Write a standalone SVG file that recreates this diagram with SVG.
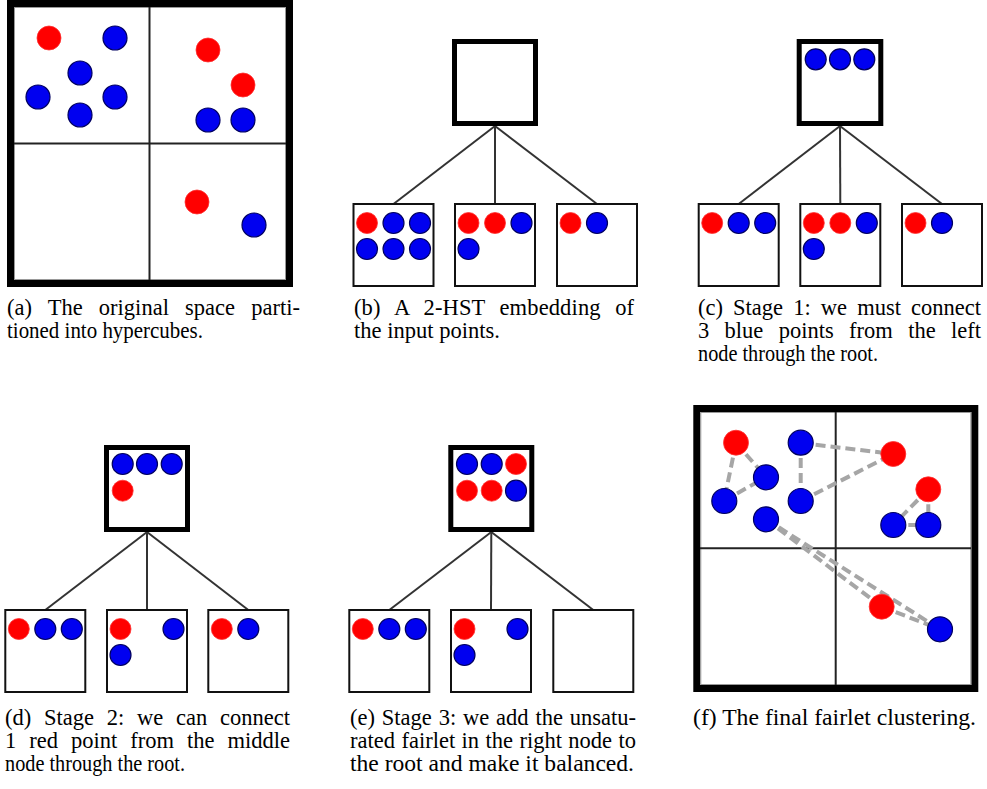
<svg xmlns="http://www.w3.org/2000/svg" width="987" height="789" viewBox="0 0 987 789">
<style>
.bg{fill:#fff}
.frame{fill:#fff;stroke:#000;stroke-width:7}
.inner{fill:none;stroke:#999;stroke-width:1}
.div{stroke:#222;stroke-width:2}
.root{fill:#fff;stroke:#000;stroke-width:5}
.child{fill:#fff;stroke:#111;stroke-width:2}
.edge{stroke:#333;stroke-width:2}
.b{fill:#0000f0;stroke:#000060;stroke-width:1.2}
.r{fill:#ff0000;stroke:#ff3030;stroke-width:0.8}
.d{stroke:#a6a6a6;stroke-width:4;stroke-dasharray:10 5;fill:none}
.cap{font-family:"Liberation Serif","Times New Roman",serif;font-size:22.5px;fill:#000}
</style>
<rect class="bg" x="0" y="0" width="987" height="789"/>

<!-- (a) -->
<g id="panel-a">
<rect class="frame" x="10.5" y="3.5" width="279" height="280"/>
<rect class="inner" x="14.5" y="7.5" width="271" height="272"/>
<line class="div" x1="149.5" y1="7" x2="149.5" y2="280"/>
<line class="div" x1="14" y1="143.5" x2="286" y2="143.5"/>
<circle class="r" cx="49" cy="38" r="12"/>
<circle class="b" cx="115" cy="38" r="12"/>
<circle class="b" cx="80" cy="73" r="12"/>
<circle class="b" cx="38" cy="97" r="12"/>
<circle class="b" cx="115" cy="97" r="12"/>
<circle class="b" cx="80" cy="115" r="12"/>
<circle class="r" cx="208" cy="50" r="12"/>
<circle class="r" cx="243" cy="85" r="12"/>
<circle class="b" cx="208" cy="120" r="12"/>
<circle class="b" cx="243" cy="120" r="12"/>
<circle class="r" cx="197" cy="202" r="12"/>
<circle class="b" cx="254" cy="225" r="12"/>
</g>

<!-- connectors -->
<g id="connectors">
<line class="edge" x1="495" y1="126" x2="393.5" y2="204"/>
<line class="edge" x1="495" y1="126" x2="495" y2="204"/>
<line class="edge" x1="495" y1="126" x2="597" y2="204"/>
<line class="edge" x1="840" y1="126" x2="738.7" y2="204"/>
<line class="edge" x1="840" y1="126" x2="840.3" y2="204"/>
<line class="edge" x1="840" y1="126" x2="942" y2="204"/>
<line class="edge" x1="147" y1="532" x2="45.3" y2="610"/>
<line class="edge" x1="147" y1="532" x2="147" y2="610"/>
<line class="edge" x1="147" y1="532" x2="248.3" y2="610"/>
<line class="edge" x1="491.3" y1="532" x2="389.3" y2="610"/>
<line class="edge" x1="491.3" y1="532" x2="491" y2="610"/>
<line class="edge" x1="491.3" y1="532" x2="593.3" y2="610"/>
</g>

<!-- (b) -->
<g id="b-root"><rect class="root" x="454.5" y="41.5" width="81" height="82"/></g>
<g id="b-left">
<rect class="child" x="353.5" y="204" width="80" height="82"/>
<circle class="r" cx="367" cy="223" r="10.5"/>
<circle class="b" cx="393.5" cy="223" r="10.5"/>
<circle class="b" cx="420" cy="223" r="10.5"/>
<circle class="b" cx="367" cy="249" r="10.5"/>
<circle class="b" cx="393.5" cy="249" r="10.5"/>
<circle class="b" cx="420" cy="249" r="10.5"/>
</g>
<g id="b-middle">
<rect class="child" x="455" y="204" width="80" height="82"/>
<circle class="r" cx="468.5" cy="223" r="10.5"/>
<circle class="r" cx="495" cy="223" r="10.5"/>
<circle class="b" cx="521.5" cy="223" r="10.5"/>
<circle class="b" cx="468.5" cy="249" r="10.5"/>
</g>
<g id="b-right">
<rect class="child" x="557" y="204" width="80" height="82"/>
<circle class="r" cx="570.5" cy="223" r="10.5"/>
<circle class="b" cx="597" cy="223" r="10.5"/>
</g>

<!-- (c) -->
<g id="c-root">
<rect class="root" x="799.2" y="41.5" width="81.6" height="82"/>
<circle class="b" cx="815.7" cy="59.3" r="10.5"/>
<circle class="b" cx="840" cy="59.3" r="10.5"/>
<circle class="b" cx="864.3" cy="59.3" r="10.5"/>
</g>
<g id="c-left">
<rect class="child" x="698.7" y="204" width="80" height="82"/>
<circle class="r" cx="712.2" cy="223" r="10.5"/>
<circle class="b" cx="738.7" cy="223" r="10.5"/>
<circle class="b" cx="765.2" cy="223" r="10.5"/>
</g>
<g id="c-middle">
<rect class="child" x="800.3" y="204" width="80" height="82"/>
<circle class="r" cx="813.8" cy="223" r="10.5"/>
<circle class="r" cx="840.3" cy="223" r="10.5"/>
<circle class="b" cx="866.8" cy="223" r="10.5"/>
<circle class="b" cx="813.8" cy="249" r="10.5"/>
</g>
<g id="c-right">
<rect class="child" x="902" y="204" width="80" height="82"/>
<circle class="r" cx="915.5" cy="223" r="10.5"/>
<circle class="b" cx="942" cy="223" r="10.5"/>
</g>

<!-- (d) -->
<g id="d-root">
<rect class="root" x="106.5" y="447.5" width="81" height="82"/>
<circle class="b" cx="122.7" cy="464" r="10.5"/>
<circle class="b" cx="147" cy="464" r="10.5"/>
<circle class="b" cx="171.7" cy="464" r="10.5"/>
<circle class="r" cx="122.7" cy="490.7" r="10.5"/>
</g>
<g id="d-left">
<rect class="child" x="5.3" y="610" width="80" height="82"/>
<circle class="r" cx="18.8" cy="629" r="10.5"/>
<circle class="b" cx="45.3" cy="629" r="10.5"/>
<circle class="b" cx="71.8" cy="629" r="10.5"/>
</g>
<g id="d-middle">
<rect class="child" x="107" y="610" width="80" height="82"/>
<circle class="r" cx="120.5" cy="629" r="10.5"/>
<circle class="b" cx="173.5" cy="629" r="10.5"/>
<circle class="b" cx="120.5" cy="655" r="10.5"/>
</g>
<g id="d-right">
<rect class="child" x="208.3" y="610" width="80" height="82"/>
<circle class="r" cx="221.8" cy="629" r="10.5"/>
<circle class="b" cx="248.3" cy="629" r="10.5"/>
</g>

<!-- (e) -->
<g id="e-root">
<rect class="root" x="450.8" y="447.5" width="81" height="82"/>
<circle class="b" cx="467" cy="464" r="10.5"/>
<circle class="b" cx="491.7" cy="464" r="10.5"/>
<circle class="r" cx="516" cy="464" r="10.5"/>
<circle class="r" cx="467" cy="490.7" r="10.5"/>
<circle class="r" cx="491.7" cy="490.7" r="10.5"/>
<circle class="b" cx="516" cy="490.7" r="10.5"/>
</g>
<g id="e-left">
<rect class="child" x="349.3" y="610" width="80" height="82"/>
<circle class="r" cx="362.8" cy="629" r="10.5"/>
<circle class="b" cx="389.3" cy="629" r="10.5"/>
<circle class="b" cx="415.8" cy="629" r="10.5"/>
</g>
<g id="e-middle">
<rect class="child" x="451" y="610" width="80" height="82"/>
<circle class="r" cx="464.5" cy="629" r="10.5"/>
<circle class="b" cx="517.5" cy="629" r="10.5"/>
<circle class="b" cx="464.5" cy="655" r="10.5"/>
</g>
<g id="e-right">
<rect class="child" x="553.3" y="610" width="80" height="82"/>
</g>

<!-- (f) -->
<g id="panel-f">
<rect class="frame" x="696.8" y="408.5" width="278" height="280"/>
<rect class="inner" x="700.8" y="412.5" width="270" height="272"/>
<line class="div" x1="835.7" y1="412" x2="835.7" y2="685"/>
<line class="div" x1="700" y1="548.3" x2="971" y2="548.3"/>
<g id="f-links">
<line class="d" x1="736" y1="443" x2="766" y2="477"/>
<line class="d" x1="736" y1="443" x2="724" y2="501"/>
<line class="d" x1="724" y1="501" x2="766" y2="477"/>
<line class="d" x1="800.7" y1="443" x2="893.3" y2="454"/>
<line class="d" x1="800.7" y1="443" x2="800.7" y2="501"/>
<line class="d" x1="800.7" y1="501" x2="893.3" y2="454"/>
<line class="d" x1="928.3" y1="489.3" x2="893.3" y2="525"/>
<line class="d" x1="928.3" y1="489.3" x2="928.3" y2="525"/>
<line class="d" x1="893.3" y1="525" x2="928.3" y2="525"/>
<line class="d" x1="766" y1="519.3" x2="881.7" y2="606.7"/>
<line class="d" x1="766" y1="519.3" x2="940" y2="629.3"/>
<line class="d" x1="881.7" y1="606.7" x2="940" y2="629.3"/>
</g>
<circle class="r" cx="736" cy="442.7" r="12.5"/>
<circle class="b" cx="800.7" cy="442.7" r="12.5"/>
<circle class="r" cx="893.3" cy="454" r="12.5"/>
<circle class="b" cx="766" cy="477.3" r="12.5"/>
<circle class="b" cx="724.3" cy="501" r="12.5"/>
<circle class="b" cx="800.7" cy="501" r="12.5"/>
<circle class="r" cx="928.3" cy="489.3" r="12.5"/>
<circle class="b" cx="766" cy="519.3" r="12.5"/>
<circle class="b" cx="893.3" cy="525" r="12.5"/>
<circle class="b" cx="928.3" cy="525" r="12.5"/>
<circle class="r" cx="881.7" cy="606.7" r="12.5"/>
<circle class="b" cx="940" cy="629.3" r="12.5"/>
</g>

<!-- captions -->
<g id="captions" class="cap">
<text id="cap-a"><tspan x="7" y="315" word-spacing="10.4" textLength="293" lengthAdjust="spacing">(a) The original space parti-</tspan><tspan x="7" y="338" textLength="196" lengthAdjust="spacingAndGlyphs">tioned into hypercubes.</tspan></text>
<text id="cap-b"><tspan x="354" y="315" word-spacing="8.75" textLength="280" lengthAdjust="spacing">(b) A 2-HST embedding of</tspan><tspan x="354" y="338" textLength="146" lengthAdjust="spacingAndGlyphs">the input points.</tspan></text>
<text id="cap-c"><tspan x="698" y="315" word-spacing="4.5" textLength="283" lengthAdjust="spacing">(c) Stage 1: we must connect</tspan><tspan x="698" y="338" word-spacing="9.7" textLength="283" lengthAdjust="spacing">3 blue points from the left</tspan><tspan x="698" y="361" textLength="180" lengthAdjust="spacingAndGlyphs">node through the root.</tspan></text>
<text id="cap-d"><tspan x="5" y="725" word-spacing="7.1" textLength="285" lengthAdjust="spacing">(d) Stage 2: we can connect</tspan><tspan x="5" y="748" word-spacing="7.4" textLength="285" lengthAdjust="spacing">1 red point from the middle</tspan><tspan x="5" y="771" textLength="180" lengthAdjust="spacingAndGlyphs">node through the root.</tspan></text>
<text id="cap-e"><tspan x="350" y="725" word-spacing="1.2" textLength="286" lengthAdjust="spacing">(e) Stage 3: we add the unsatu-</tspan><tspan x="350" y="748" word-spacing="0.8" textLength="286" lengthAdjust="spacing">rated fairlet in the right node to</tspan><tspan x="350" y="771" textLength="284" lengthAdjust="spacingAndGlyphs">the root and make it balanced.</tspan></text>
<text id="cap-f" x="693" y="725" textLength="283" lengthAdjust="spacingAndGlyphs">(f) The final fairlet clustering.</text>
</g>
</svg>
